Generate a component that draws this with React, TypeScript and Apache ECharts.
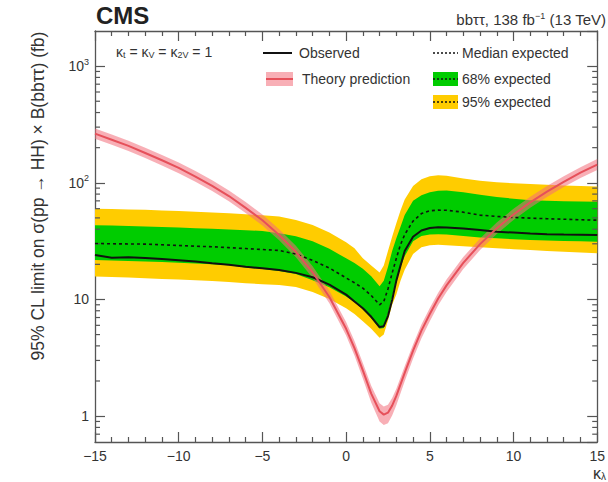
import React, { useEffect, useRef } from "react";
import * as echarts from "echarts";

// kappa_lambda grid
const kl = [-15, -14, -13, -12, -11, -10, -9, -8, -7, -6, -5, -4, -3, -2, -1, 0, 0.5, 1, 1.5, 2, 2.25, 2.5, 2.75, 3, 3.25, 3.5, 4, 4.5, 5, 5.5, 6, 7, 8, 9, 10, 11, 12, 13, 14, 15];

const observed = [24.0, 22.8, 23.0, 22.7, 22.2, 21.7, 21.1, 20.4, 19.8, 19.1, 18.5, 17.9, 16.9, 15.5, 13.4, 11.0, 9.6, 8.4, 7.1, 5.8, 5.9, 7.2, 9.9, 14.5, 19.5, 26, 34.5, 39, 41, 41.5, 41.3, 40.5, 39.3, 38.1, 37.4, 36.7, 36.3, 36.0, 35.8, 35.6];

const median = [30.2, 30.0, 29.9, 29.8, 29.4, 29.0, 28.6, 28.3, 27.8, 27.3, 26.8, 26.3, 24.5, 21.6, 18.6, 15.3, 13.9, 12.5, 10.8, 9.0, 9.6, 12.3, 16.8, 22.5, 29.5, 36, 47, 54.5, 57.5, 58.3, 58.1, 56, 52.8, 51.5, 50.5, 49.8, 49.2, 48.7, 48.2, 47.8];

const exp68Hi = [43.3, 43.0, 42.7, 42.3, 41.8, 41.3, 40.8, 40.3, 39.8, 39.2, 38.6, 37.0, 34.8, 31.5, 27.2, 22.5, 20.5, 18.3, 15.8, 13.0, 14.5, 19, 26, 33.5, 42, 53, 70, 78, 83, 85.5, 86, 83, 79, 75.5, 73, 71, 70, 69.5, 69, 68.8];

const exp68Lo = [21.8, 21.6, 21.4, 21.2, 20.9, 20.6, 20.3, 20.0, 19.6, 18.8, 18.2, 17.5, 16.5, 14.6, 12.7, 10.6, 9.5, 8.2, 6.9, 5.6, 5.7, 7.6, 10.6, 14.8, 19.0, 23.5, 31.5, 35, 36, 36.3, 36, 35, 34, 33.4, 32.8, 32.3, 32.0, 31.7, 31.5, 31.3];

const exp95Hi = [60, 59.6, 59.1, 58.6, 58, 57.3, 56.5, 55.6, 54.7, 53.7, 52.7, 51.5, 48, 43.5, 37.5, 31, 27.5, 22.5, 19.5, 17.0, 19.5, 26, 34.5, 45, 58, 72, 94, 107, 114, 116, 115, 109, 104, 101, 99, 97.5, 96, 95, 94, 93];

const exp95Lo = [15.7, 15.6, 15.4, 15.2, 15.0, 14.8, 14.6, 14.4, 14.1, 13.8, 13.5, 13.3, 12.8, 11.6, 10.1, 8.4, 7.5, 6.5, 5.6, 4.7, 5.0, 6.6, 9.0, 11.0, 14.5, 18.0, 24.5, 28, 29.2, 29.4, 29.2, 28.6, 28, 27.5, 27, 26.5, 26, 25.6, 25.2, 24.9];

const theory = [264, 234, 207, 180, 156, 134, 113, 94, 77, 61, 47.7, 35.7, 25.6, 17.1, 10.5, 5.6, 3.82, 2.47, 1.56, 1.10, 1.03, 1.07, 1.23, 1.49, 1.87, 2.35, 3.64, 5.4, 7.5, 10.2, 13.2, 20.6, 29.8, 40.8, 53.5, 68, 84, 102, 122, 143];

const theoryHi = [292, 259, 229, 200, 173, 149, 126, 105, 86, 68.5, 53.5, 40, 28.8, 19.3, 11.9, 6.4, 4.4, 2.85, 1.82, 1.29, 1.21, 1.25, 1.43, 1.72, 2.14, 2.68, 4.12, 6.1, 8.45, 11.4, 14.8, 23.1, 33.3, 45.6, 59.8, 76, 94, 114, 136, 160];

const theoryLo = [239, 212, 187, 163, 141, 121, 102, 85, 69.5, 55, 43, 32.2, 23, 15.3, 9.3, 4.9, 3.3, 2.1, 1.31, 0.9, 0.84, 0.87, 1.01, 1.24, 1.57, 1.99, 3.12, 4.66, 6.5, 8.9, 11.6, 18.2, 26.5, 36.4, 48, 61, 75.5, 92, 110, 129];

// axis decoration
const xMin = -15;
const xMax = 15;
const xStep = 5;
const yMin = 0.6;
const yMax = 2000;
const yMinorTicks = [0.7, 0.8, 0.9, 2, 3, 4, 5, 6, 7, 8, 9, 20, 30, 40, 50, 60, 70, 80, 90, 200, 300, 400, 500, 600, 700, 800, 900];

const FONT = '"Liberation Sans", Arial, Helvetica, sans-serif';
const AXIS = "#555555";
const TXT = "#333333";
const GREEN = "#00cc00";
const YELLOW = "#ffcc00";
const PINK = "rgba(242, 110, 122, 0.55)";
const RED = "#e6505a";

function band(lo: number[], hi: number[], color: string) {
  return {
    type: "custom",
    silent: true,
    clip: true,
    data: [[kl[0], lo[0]]],
    renderItem: (_p: any, api: any) => {
      const pts: number[][] = [];
      for (let i = 0; i < kl.length; i++) pts.push(api.coord([kl[i], hi[i]]));
      for (let i = kl.length - 1; i >= 0; i--) pts.push(api.coord([kl[i], lo[i]]));
      return { type: "polygon", shape: { points: pts }, style: { fill: color } };
    },
  };
}

function line(vals: number[], color: string, width: number, type: any) {
  return {
    type: "line",
    data: kl.map((k, i) => [k, vals[i]]),
    symbol: "none",
    silent: true,
    clip: true,
    lineStyle: { color, width, type },
  };
}

export default function App() {
  const ref = useRef<HTMLDivElement>(null);
  useEffect(() => {
    if (!ref.current) return;
    const chart = echarts.init(ref.current, null, { renderer: "svg" });
    const xAxisBase = {
      type: "value",
      min: xMin,
      max: xMax,
      interval: xStep,
      axisLine: { onZero: false, lineStyle: { color: AXIS, width: 1.3 } },
      axisTick: { inside: true, length: 10, lineStyle: { color: AXIS, width: 1.2 } },
      minorTick: { show: true, splitNumber: 5, length: 5, lineStyle: { color: AXIS, width: 1.2 } },
      splitLine: { show: false },
    };
    const yAxisBase = {
      type: "log",
      logBase: 10,
      min: yMin,
      max: yMax,
      axisLine: { onZero: false, lineStyle: { color: AXIS, width: 1.3 } },
      axisTick: { inside: true, length: 10, lineStyle: { color: AXIS, width: 1.2 } },
      minorTick: { show: false },
      splitLine: { show: false },
    };
    const option: any = {
      animation: false,
      backgroundColor: "#ffffff",
      grid: { left: 95, right: 3, top: 31, bottom: 40, containLabel: false },
      xAxis: [
        {
          ...xAxisBase,
          position: "bottom",
          axisLabel: {
            color: TXT,
            fontSize: 14,
            fontFamily: FONT,
            margin: 7,
            formatter: (v: number) => String(v).replace("-", "\u2212"),
          },
        },
        { ...xAxisBase, position: "top", axisLabel: { show: false } },
      ],
      yAxis: [
        {
          ...yAxisBase,
          position: "left",
          axisLabel: {
            color: TXT,
            fontSize: 14,
            fontFamily: FONT,
            margin: 6,
            showMinLabel: false,
            showMaxLabel: false,
            formatter: (v: number) => {
              const e = Math.round(Math.log10(v));
              if (e === 0) return "1";
              if (e === 1) return "10";
              return "{b|10}{s|" + e + "}";
            },
            rich: {
              b: { fontSize: 14, fontFamily: FONT, color: TXT },
              s: { fontSize: 9, fontFamily: FONT, color: TXT, padding: [0, 0, 9, 0] },
            },
          },
        },
        { ...yAxisBase, position: "right", axisLabel: { show: false } },
      ],
      series: [
        band(exp95Lo, exp95Hi, YELLOW),
        band(exp68Lo, exp68Hi, GREEN),
        line(median, "#111111", 1.6, [3, 3]),
        line(observed, "#111111", 2, "solid"),
        band(theoryLo, theoryHi, PINK),
        line(theory, RED, 2, "solid"),
        {
          type: "custom",
          silent: true,
          clip: false,
          data: yMinorTicks.map((v) => [xMin, v]),
          renderItem: (_p: any, api: any) => {
            const v = api.value(1);
            const a = api.coord([xMin, v]);
            const b = api.coord([xMax, v]);
            const st = { stroke: AXIS, lineWidth: 1.2 };
            return {
              type: "group",
              children: [
                { type: "line", shape: { x1: a[0], y1: a[1], x2: a[0] + 5, y2: a[1] }, style: st },
                { type: "line", shape: { x1: b[0], y1: b[1], x2: b[0] - 5, y2: b[1] }, style: st },
              ],
            };
          },
        },
      ],
      graphic: [
        {
          type: "text",
          x: 96,
          y: 27,
          style: { text: "CMS", font: 'bold 24px ' + FONT, fill: "#222", align: "left", verticalAlign: "bottom" },
        },
        {
          type: "text",
          x: 606,
          y: 28,
          style: {
            text: "{a|bb\u03c4\u03c4, 138 fb}{s|\u22121}{a| (13 TeV)}",
            align: "right",
            verticalAlign: "bottom",
            rich: {
              a: { fontSize: 15, fontFamily: FONT, fill: TXT },
              s: { fontSize: 9, fontFamily: FONT, fill: TXT, padding: [0, 0, 8, 0] },
            },
          },
        },
        {
          type: "text",
          x: 38,
          y: 196,
          rotation: Math.PI / 2,
          style: {
            text: "95% CL limit on \u03c3(pp \u2192 HH) \u00d7 B(bb\u03c4\u03c4) (fb)",
            font: '17.5px ' + FONT,
            fill: TXT,
            align: "center",
            verticalAlign: "middle",
          },
        },
        {
          type: "text",
          x: 606,
          y: 481,
          style: {
            text: "{k|\u03ba}{s|\u03bb}",
            align: "right",
            verticalAlign: "bottom",
            rich: {
              k: { fontSize: 16, fontFamily: FONT, fill: TXT },
              s: { fontSize: 10, fontFamily: FONT, fill: TXT, padding: [6, 0, 0, 0] },
            },
          },
        },
        {
          type: "text",
          x: 116,
          y: 52,
          style: {
            text: "{k|\u03ba}{s|t}{k| = \u03ba}{s|V}{k| = \u03ba}{s|2V}{k| = 1}",
            align: "left",
            verticalAlign: "middle",
            rich: {
              k: { fontSize: 14, fontFamily: FONT, fill: TXT },
              s: { fontSize: 9, fontFamily: FONT, fill: TXT, padding: [6, 0, 0, 0] },
            },
          },
        },
        // legend: observed
        { type: "line", shape: { x1: 263, y1: 53, x2: 292, y2: 53 }, style: { stroke: "#111", lineWidth: 2 } },
        { type: "text", x: 299, y: 53, style: { text: "Observed", font: '14px ' + FONT, fill: TXT, align: "left", verticalAlign: "middle" } },
        // legend: median
        { type: "line", shape: { x1: 433, y1: 53, x2: 458, y2: 53 }, style: { stroke: "#111", lineWidth: 1.6, lineDash: [2, 2] } },
        { type: "text", x: 462, y: 53, style: { text: "Median expected", font: '14px ' + FONT, fill: TXT, align: "left", verticalAlign: "middle" } },
        // legend: theory
        { type: "rect", shape: { x: 266, y: 72, width: 27, height: 14 }, style: { fill: PINK } },
        { type: "line", shape: { x1: 266, y1: 79, x2: 293, y2: 79 }, style: { stroke: RED, lineWidth: 2 } },
        { type: "text", x: 302, y: 79, style: { text: "Theory prediction", font: '14px ' + FONT, fill: TXT, align: "left", verticalAlign: "middle" } },
        // legend: 68%
        { type: "rect", shape: { x: 433, y: 72, width: 25, height: 14 }, style: { fill: GREEN } },
        { type: "line", shape: { x1: 433, y1: 79, x2: 458, y2: 79 }, style: { stroke: "#111", lineWidth: 1.6, lineDash: [2, 2] } },
        { type: "text", x: 462, y: 79, style: { text: "68% expected", font: '14px ' + FONT, fill: TXT, align: "left", verticalAlign: "middle" } },
        // legend: 95%
        { type: "rect", shape: { x: 433, y: 95, width: 25, height: 14 }, style: { fill: YELLOW } },
        { type: "line", shape: { x1: 433, y1: 102, x2: 458, y2: 102 }, style: { stroke: "#111", lineWidth: 1.6, lineDash: [2, 2] } },
        { type: "text", x: 462, y: 102, style: { text: "95% expected", font: '14px ' + FONT, fill: TXT, align: "left", verticalAlign: "middle" } },
      ],
    };
    chart.setOption(option);
    return () => chart.dispose();
  }, []);
  return (
    <div
      ref={ref}
      style={{ position: "fixed", left: 0, top: 0, width: 608, height: 482, background: "#fff" }}
    />
  );
}
